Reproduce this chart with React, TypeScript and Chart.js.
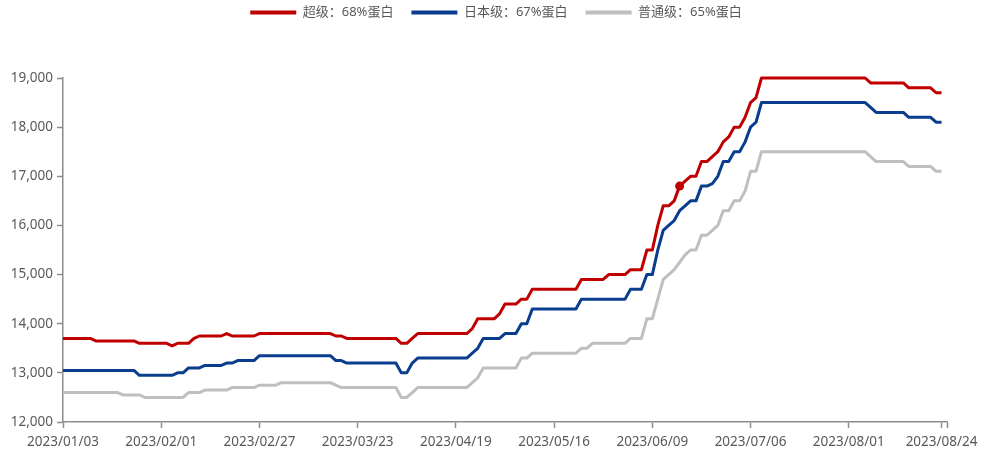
import React, { useEffect, useRef } from "react";
import { Chart, registerables } from "chart.js";

Chart.register(...registerables);

// Tick labels and the category index at which each appears (trading-day axis, 163 slots)
const tickLabels = [
  "2023/01/03", "2023/02/01", "2023/02/27", "2023/03/23", "2023/04/19",
  "2023/05/16", "2023/06/09", "2023/07/06", "2023/08/01", "2023/08/24",
];
const tickPositions = [0, 18, 36, 54, 72, 90, 108, 126, 144, 161];
const categoryCount = 163;

const seriesNames = ["超级：68%蛋白", "日本级：67%蛋白", "普通级：65%蛋白"];
const seriesColors = ["#C00000", "#0A3D8E", "#BFBFBF"];

// 超级 68%
const superValues = [
  13700, 13700, 13700, 13700, 13700, 13700, 13650, 13650, 13650, 13650,
  13650, 13650, 13650, 13650, 13600, 13600, 13600, 13600, 13600, 13600,
  13550, 13600, 13600, 13600, 13700, 13750, 13750, 13750, 13750, 13750,
  13800, 13750, 13750, 13750, 13750, 13750, 13800, 13800, 13800, 13800,
  13800, 13800, 13800, 13800, 13800, 13800, 13800, 13800, 13800, 13800,
  13750, 13750, 13700, 13700, 13700, 13700, 13700, 13700, 13700, 13700,
  13700, 13700, 13600, 13600, 13700, 13800, 13800, 13800, 13800, 13800,
  13800, 13800, 13800, 13800, 13800, 13900, 14100, 14100, 14100, 14100,
  14200, 14400, 14400, 14400, 14500, 14500, 14700, 14700, 14700, 14700,
  14700, 14700, 14700, 14700, 14700, 14900, 14900, 14900, 14900, 14900,
  15000, 15000, 15000, 15000, 15100, 15100, 15100, 15500, 15500, 16000,
  16400, 16400, 16500, 16800, 16900, 17000, 17000, 17300, 17300, 17400,
  17500, 17700, 17800, 18000, 18000, 18200, 18500, 18600, 19000, 19000,
  19000, 19000, 19000, 19000, 19000, 19000, 19000, 19000, 19000, 19000,
  19000, 19000, 19000, 19000, 19000, 19000, 19000, 19000, 18900, 18900,
  18900, 18900, 18900, 18900, 18900, 18800, 18800, 18800, 18800, 18800,
  18700, 18700,
];

// 日本级 67%
const japanValues = [
  13050, 13050, 13050, 13050, 13050, 13050, 13050, 13050, 13050, 13050,
  13050, 13050, 13050, 13050, 12950, 12950, 12950, 12950, 12950, 12950,
  12950, 13000, 13000, 13100, 13100, 13100, 13150, 13150, 13150, 13150,
  13200, 13200, 13250, 13250, 13250, 13250, 13350, 13350, 13350, 13350,
  13350, 13350, 13350, 13350, 13350, 13350, 13350, 13350, 13350, 13350,
  13250, 13250, 13200, 13200, 13200, 13200, 13200, 13200, 13200, 13200,
  13200, 13200, 13000, 13000, 13200, 13300, 13300, 13300, 13300, 13300,
  13300, 13300, 13300, 13300, 13300, 13400, 13500, 13700, 13700, 13700,
  13700, 13800, 13800, 13800, 14000, 14000, 14300, 14300, 14300, 14300,
  14300, 14300, 14300, 14300, 14300, 14500, 14500, 14500, 14500, 14500,
  14500, 14500, 14500, 14500, 14700, 14700, 14700, 15000, 15000, 15500,
  15900, 16000, 16100, 16300, 16400, 16500, 16500, 16800, 16800, 16850,
  17000, 17300, 17300, 17500, 17500, 17700, 18000, 18100, 18500, 18500,
  18500, 18500, 18500, 18500, 18500, 18500, 18500, 18500, 18500, 18500,
  18500, 18500, 18500, 18500, 18500, 18500, 18500, 18500, 18400, 18300,
  18300, 18300, 18300, 18300, 18300, 18200, 18200, 18200, 18200, 18200,
  18100, 18100,
];

// 普通级 65%
const standardValues = [
  12600, 12600, 12600, 12600, 12600, 12600, 12600, 12600, 12600, 12600,
  12600, 12550, 12550, 12550, 12550, 12500, 12500, 12500, 12500, 12500,
  12500, 12500, 12500, 12600, 12600, 12600, 12650, 12650, 12650, 12650,
  12650, 12700, 12700, 12700, 12700, 12700, 12750, 12750, 12750, 12750,
  12800, 12800, 12800, 12800, 12800, 12800, 12800, 12800, 12800, 12800,
  12750, 12700, 12700, 12700, 12700, 12700, 12700, 12700, 12700, 12700,
  12700, 12700, 12500, 12500, 12600, 12700, 12700, 12700, 12700, 12700,
  12700, 12700, 12700, 12700, 12700, 12800, 12900, 13100, 13100, 13100,
  13100, 13100, 13100, 13100, 13300, 13300, 13400, 13400, 13400, 13400,
  13400, 13400, 13400, 13400, 13400, 13500, 13500, 13600, 13600, 13600,
  13600, 13600, 13600, 13600, 13700, 13700, 13700, 14100, 14100, 14500,
  14900, 15000, 15100, 15250, 15400, 15500, 15500, 15800, 15800, 15900,
  16000, 16300, 16300, 16500, 16500, 16700, 17100, 17100, 17500, 17500,
  17500, 17500, 17500, 17500, 17500, 17500, 17500, 17500, 17500, 17500,
  17500, 17500, 17500, 17500, 17500, 17500, 17500, 17500, 17400, 17300,
  17300, 17300, 17300, 17300, 17300, 17200, 17200, 17200, 17200, 17200,
  17100, 17100,
];

const highlightIndex = 113; // marked point on 超级 series

const yMin = 12000;
const yMax = 19000;
const yStep = 1000;

const TEXT_COLOR = "#595959";
const AXIS_COLOR = "#8C8C8C";
const TICK_FONT = "'Noto Sans', 'Noto Sans CJK SC', sans-serif";

export default function App() {
  const canvasRef = useRef<HTMLCanvasElement | null>(null);

  useEffect(() => {
    const canvas = canvasRef.current;
    if (!canvas) return;

    const categories: string[] = [];
    for (let i = 0; i < categoryCount; i++) {
      const k = tickPositions.indexOf(i);
      categories.push(k >= 0 ? tickLabels[k] : "");
    }

    const legendLayout = {
      id: "legendLayout",
      beforeUpdate(chart: any) {
        const lg = chart.legend;
        if (lg && !lg.__patched) {
          const orig = lg.fit.bind(lg);
          lg.fit = function () {
            orig();
            this.height += 49;
          };
          lg.__patched = true;
        }
      },
      afterLayout(chart: any) {
        const lg = chart.legend;
        if (lg) {
          lg.left += 45;
          lg.width = lg.right - lg.left;
        }
      },
    };

    const chart = new Chart(canvas, {
      type: "line",
      data: {
        labels: categories,
        datasets: [
          {
            label: seriesNames[0],
            data: superValues,
            borderColor: seriesColors[0],
            backgroundColor: seriesColors[0],
            borderWidth: 3,
            pointRadius: superValues.map((_, i) => (i === highlightIndex ? 4.5 : 0)),
            pointBackgroundColor: seriesColors[0],
            pointBorderWidth: 0,
            tension: 0,
            borderJoinStyle: "round",
            clip: false,
          },
          {
            label: seriesNames[1],
            data: japanValues,
            borderColor: seriesColors[1],
            backgroundColor: seriesColors[1],
            borderWidth: 3,
            pointRadius: 0,
            tension: 0,
            borderJoinStyle: "round",
            clip: false,
          },
          {
            label: seriesNames[2],
            data: standardValues,
            borderColor: seriesColors[2],
            backgroundColor: seriesColors[2],
            borderWidth: 3,
            pointRadius: 0,
            tension: 0,
            borderJoinStyle: "round",
            clip: false,
          },
        ].reverse() as any,
      },
      options: {
        animation: false,
        responsive: false,
        layout: { padding: { left: 0, right: 39, top: 0, bottom: 0 } },
        plugins: {
          tooltip: { enabled: false },
          legend: {
            position: "top",
            align: "center",
            reverse: true,
            labels: {
              boxWidth: 46,
              boxHeight: 4,
              padding: 18,
              color: TEXT_COLOR,
              font: { family: TICK_FONT, size: 13 },
              generateLabels(chart: any) {
                const items = Chart.defaults.plugins.legend.labels.generateLabels(chart);
                return items.map((it: any) => ({ ...it, lineWidth: 0 }));
              },
            },
          },
        },
        scales: {
          x: {
            type: "category",
            offset: false,
            grid: {
              display: true,
              drawOnChartArea: false,
              drawTicks: true,
              tickLength: 6,
              tickWidth: 1.5,
              color: (ctx: any) =>
                tickPositions.includes(ctx.index) || ctx.index === categoryCount - 1
                  ? AXIS_COLOR
                  : "rgba(0,0,0,0)",
            },
            border: { display: true, color: AXIS_COLOR, width: 1.5 },
            ticks: {
              autoSkip: false,
              maxRotation: 0,
              minRotation: 0,
              padding: 6,
              color: TEXT_COLOR,
              font: { family: TICK_FONT, size: 13.5 },
              callback: (_v: any, i: number) => categories[i],
            },
            afterFit: (s: any) => {
              s.height = 30;
              s.paddingLeft = 0;
              s.paddingRight = 0;
            },
          },
          y: {
            min: yMin,
            max: yMax,
            grid: {
              display: true,
              drawOnChartArea: false,
              drawTicks: true,
              tickLength: 6,
              tickWidth: 1.5,
              color: AXIS_COLOR,
            },
            border: { display: true, color: AXIS_COLOR, width: 1.5 },
            ticks: {
              stepSize: yStep,
              padding: 4,
              color: TEXT_COLOR,
              font: { family: TICK_FONT, size: 13.5 },
              callback: (v: any) => Number(v).toLocaleString("en-US"),
            },
            afterFit: (s: any) => {
              s.width = 63;
            },
          },
        },
      },
      plugins: [legendLayout],
    });

    return () => chart.destroy();
  }, []);

  return (
    <canvas
      ref={canvasRef}
      width={986}
      height={464}
      style={{ position: "absolute", left: 0, top: -12, width: 986, height: 464 }}
    />
  );
}
